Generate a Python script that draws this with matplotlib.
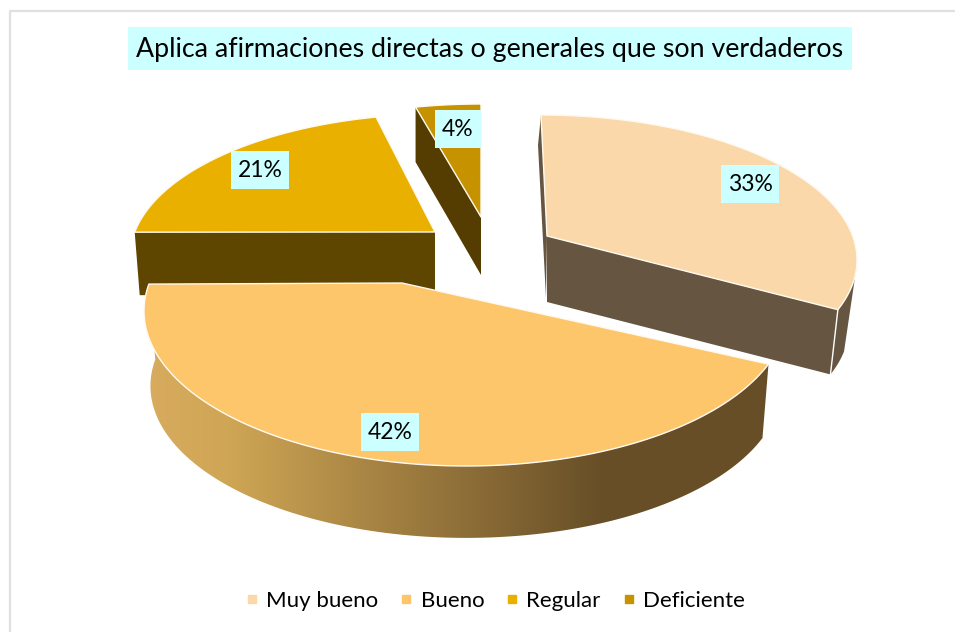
import numpy as np
import matplotlib
matplotlib.use('Agg')
import matplotlib.pyplot as plt
from matplotlib.lines import Line2D
from matplotlib.patches import Polygon, Rectangle
from matplotlib.colors import LinearSegmentedColormap

plt.rcParams['font.family'] = ['Lato', 'DejaVu Sans']

title = 'Aplica afirmaciones directas o generales que son verdaderos'
categories = ['Muy bueno', 'Bueno', 'Regular', 'Deficiente']
values = [33, 42, 21, 4]

top_colors = ['#fbd8a9', '#fdc66a', '#e9b000', '#c69200']
wall_colors = ['#665641', '#6a4f27', '#5e4500', '#553c00']

# each slice is pulled out on its own, so each one has its own ellipse and tip (pixels)
centers = [(541, 260), (466, 311), (440, 257), (481, 247)]
tips = [(547, 236), (402, 283), (435, 232), (481, 217)]
radii = [(316, 145), (322, 155), (310, 143), (317, 143)]
depths = [66, 75, 63, 58]
label_pos = [(750, 184), (390, 432), (260, 170), (458, 129)]
label_size = [(58, 38), (58, 38), (58, 38), (46, 38)]


def persp(theta):
    # the tilted view squeezes the angles a bit towards the front
    return theta - np.radians(10) * np.sin(theta)


def rim(i, a, b, shrink=1.0, dx=0, dy=0, n=120):
    t = persp(np.linspace(a, b, n))
    cx, cy = centers[i]
    rx, ry = radii[i]
    x = cx + dx + rx * shrink * np.sin(t)
    y = cy + dy - ry * shrink * np.cos(t)
    return np.column_stack([x, y])


fig = plt.figure(figsize=(9.55, 6.32), dpi=100)
ax = fig.add_axes([0, 0, 1, 1])
ax.set_xlim(0, 955)
ax.set_ylim(632, 0)
ax.axis('off')

# chart frame, only top and left are inside the crop
ax.plot([10, 10, 955], [632, 11, 11], color='#e0e0e0', lw=1.6, zorder=1)

fracs = np.array(values) / sum(values)
edges = np.concatenate([[0], np.cumsum(fracs)]) * 2 * np.pi
starts, ends = edges[:-1], edges[1:]

grad = LinearSegmentedColormap.from_list('wall', [(0, '#d8ab5e'), (0.13, '#cfa655'), (0.73, '#674e27'), (1, '#674e27')])

# back to front: Deficiente, Regular, Muy bueno, Bueno
for z, i in enumerate([3, 2, 0, 1]):
    base = 2 + z * 3
    a, b = starts[i], ends[i]
    d = depths[i]
    tip = np.array(tips[i], dtype=float)
    top_rim = rim(i, a, b)
    low_tip = tip + [0, d]

    if i == 0:
        # long front cut, thin sliver at the back, bit of outer wall on the right
        low_rim = rim(i, a, b, shrink=0.975, dy=d)
        ax.add_patch(Polygon([tip, top_rim[-1], low_rim[-1], low_tip], fc=wall_colors[i], ec='none', zorder=base))
        ax.add_patch(Polygon([top_rim[0], tip, low_tip - [1, 4], top_rim[0] + [-3, 30]], fc=wall_colors[i], ec='none', zorder=base))
        k = len(top_rim) - 18
        ax.add_patch(Polygon(np.vstack([top_rim[k:], low_rim[-1:], low_rim[k + 8:][::-1]]), fc=wall_colors[i], ec='none', zorder=base))
        ax.plot([top_rim[-1][0], low_rim[-1][0]], [top_rim[-1][1], low_rim[-1][1]], color='white', lw=1, zorder=base + 1)
    elif i == 1:
        low_rim = rim(i, a, b, shrink=0.98, dy=d)
        wall = np.vstack([top_rim, low_rim[::-1]])
        im = ax.imshow(np.linspace(0, 1, 256).reshape(1, -1), cmap=grad, aspect='auto',
                       extent=(147, 771, 632, 0), zorder=base)
        clip = Polygon(wall, transform=ax.transData, fc='none', ec='none')
        ax.add_patch(clip)
        im.set_clip_path(clip)
    elif i == 2:
        low = np.array([top_rim[0] + [7, d], low_tip])
        ax.add_patch(Polygon([top_rim[0], tip, low[1], low[0], low[0] - [2, 0]], fc=wall_colors[i], ec='none', zorder=base))
    else:
        ax.add_patch(Polygon([top_rim[0], tip, low_tip, top_rim[0] + [0, d - 3]], fc=wall_colors[i], ec='none', zorder=base))

    ax.add_patch(Polygon(np.vstack([tip, top_rim]), closed=True, fc=top_colors[i],
                         ec='#fffaf0', lw=1.0, joinstyle='round', zorder=base + 1))

ax.set_xlim(0, 955)
ax.set_ylim(632, 0)

# data labels, cyan boxes
for v, (x, y), (w, h) in zip(values, label_pos, label_size):
    ax.add_patch(Rectangle((x - w / 2, y - h / 2), w, h, fc='#ccffff', ec='none', zorder=20))
    ax.text(x, y + 0.5, f'{v}%', ha='center', va='center', fontsize=16.5, color='black', zorder=21)

ax.add_patch(Rectangle((128, 27), 724, 43, fc='#ccffff', ec='none', zorder=20))
ax.text(490, 49.5, title, ha='center', va='center', fontsize=19.3, color='black', zorder=21)

handles = [Line2D([], [], ls='none', marker='s', ms=5.5, mfc=c, mec=c, label=n)
           for c, n in zip(top_colors, categories)]
ax.legend(handles=handles, ncol=4, frameon=False, loc='center', bbox_to_anchor=(495 / 955, 1 - 601 / 632),
          fontsize=16, handlelength=0.6, handletextpad=0.35, columnspacing=0.95, borderpad=0)

fig.savefig('out.png', dpi=100)
